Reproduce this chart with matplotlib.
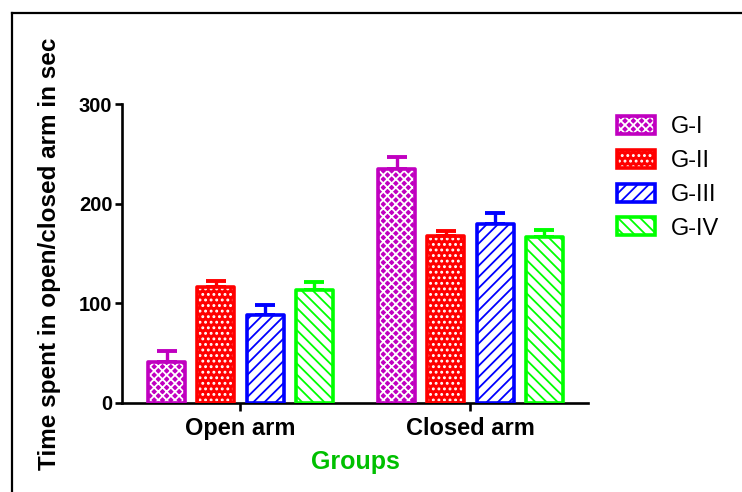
import matplotlib
matplotlib.use("Agg")
import matplotlib.pyplot as plt
from matplotlib.patches import Patch
from matplotlib.lines import Line2D
from matplotlib.legend_handler import HandlerTuple
import numpy as np

# Data: mean time (sec) with SEM per group
categories = ["Open arm", "Closed arm"]
groups = ["G-I", "G-II", "G-III", "G-IV"]
means = {
    "G-I": [41, 235],
    "G-II": [116, 168],
    "G-III": [88, 180],
    "G-IV": [113, 167],
}
sems = {
    "G-I": [11, 12],
    "G-II": [6, 5],
    "G-III": [10, 11],
    "G-IV": [8, 7],
}
y_ticks = [0, 100, 200, 300]

# Styling per group: outline colour, fill colour, hatch colour, hatch pattern
styles = {
    "G-I": dict(edge="#C000C0", face="#C000C0", hcol="white", hatch="xxxx"),
    "G-II": dict(edge="#FF0000", face="#FF0000", hcol="white", hatch="..."),
    "G-III": dict(edge="#0000FF", face="white", hcol="#0000FF", hatch="///"),
    "G-IV": dict(edge="#00FF00", face="white", hcol="#00FF00", hatch="\\\\\\"),
}

plt.rcParams["font.family"] = ["Liberation Sans", "DejaVu Sans"]
plt.rcParams["hatch.linewidth"] = 1.3

fig = plt.figure(figsize=(7.42, 4.92), dpi=100)
ax = fig.add_axes([122 / 742, 1 - 403 / 492, (588 - 122) / 742, (403 - 104) / 492])

x = np.arange(len(categories))
width = 0.161
step = 0.214
offsets = (np.arange(len(groups)) - 1.5) * step

legend_handles = []
for g, off in zip(groups, offsets):
    st = styles[g]
    pos = x + off
    ax.errorbar(pos, means[g], yerr=[np.zeros(len(categories)), sems[g]],
                fmt="none", ecolor=st["edge"], elinewidth=2.4, capsize=7,
                capthick=2.8, zorder=2)
    ax.bar(pos, means[g], width, facecolor=st["face"], edgecolor=st["hcol"],
           hatch=st["hatch"], linewidth=0, zorder=3)
    ax.bar(pos, means[g], width, facecolor="none", edgecolor=st["edge"],
           linewidth=2.6, joinstyle="round", zorder=4)
    fill = Patch(facecolor=st["face"], edgecolor=st["hcol"], hatch=st["hatch"], linewidth=0)
    outline = Patch(facecolor="none", edgecolor=st["edge"], linewidth=2.6, joinstyle="round")
    legend_handles.append((fill, outline))

ax.set_xlim(-0.515, 1.511)
ax.set_ylim(0, 300)
ax.set_yticks(y_ticks)
ax.set_xticks(x)
ax.set_xticklabels(categories, fontsize=17, fontweight="bold")
ax.set_yticklabels([str(v) for v in y_ticks], fontsize=14.5, fontweight="bold")

for side in ("top", "right"):
    ax.spines[side].set_visible(False)
for side in ("left", "bottom"):
    ax.spines[side].set_linewidth(1.9)
ax.tick_params(axis="y", length=5, width=1.9, pad=2)
ax.tick_params(axis="x", length=6, width=1.9, pad=4)

ax.set_xlabel("Groups", fontsize=18, fontweight="bold", color="#00C000", labelpad=7)
ax.set_ylabel("Time spent in open/closed arm in sec", fontsize=17.5, fontweight="bold")
ax.yaxis.set_label_coords(-(122 - 61) / 466, 0.5)

leg = ax.legend(legend_handles, groups, handler_map={tuple: HandlerTuple(ndivide=1, pad=0)},
                loc="upper left", bbox_to_anchor=(617 / 742, 1 - 116 / 492),
                bbox_transform=fig.transFigure, frameon=False, fontsize=17,
                handlelength=1.6, handleheight=0.8, handletextpad=0.7,
                labelspacing=0.49, borderpad=0, borderaxespad=0)

# Outer frame lines along the top and left of the figure
fig.add_artist(Line2D([12 / 742, 1.0], [1 - 13 / 492, 1 - 13 / 492],
                      transform=fig.transFigure, color="black", linewidth=1.6))
fig.add_artist(Line2D([12 / 742, 12 / 742], [0.0, 1 - 13 / 492],
                      transform=fig.transFigure, color="black", linewidth=1.6))

fig.savefig("out.png", dpi=100)
